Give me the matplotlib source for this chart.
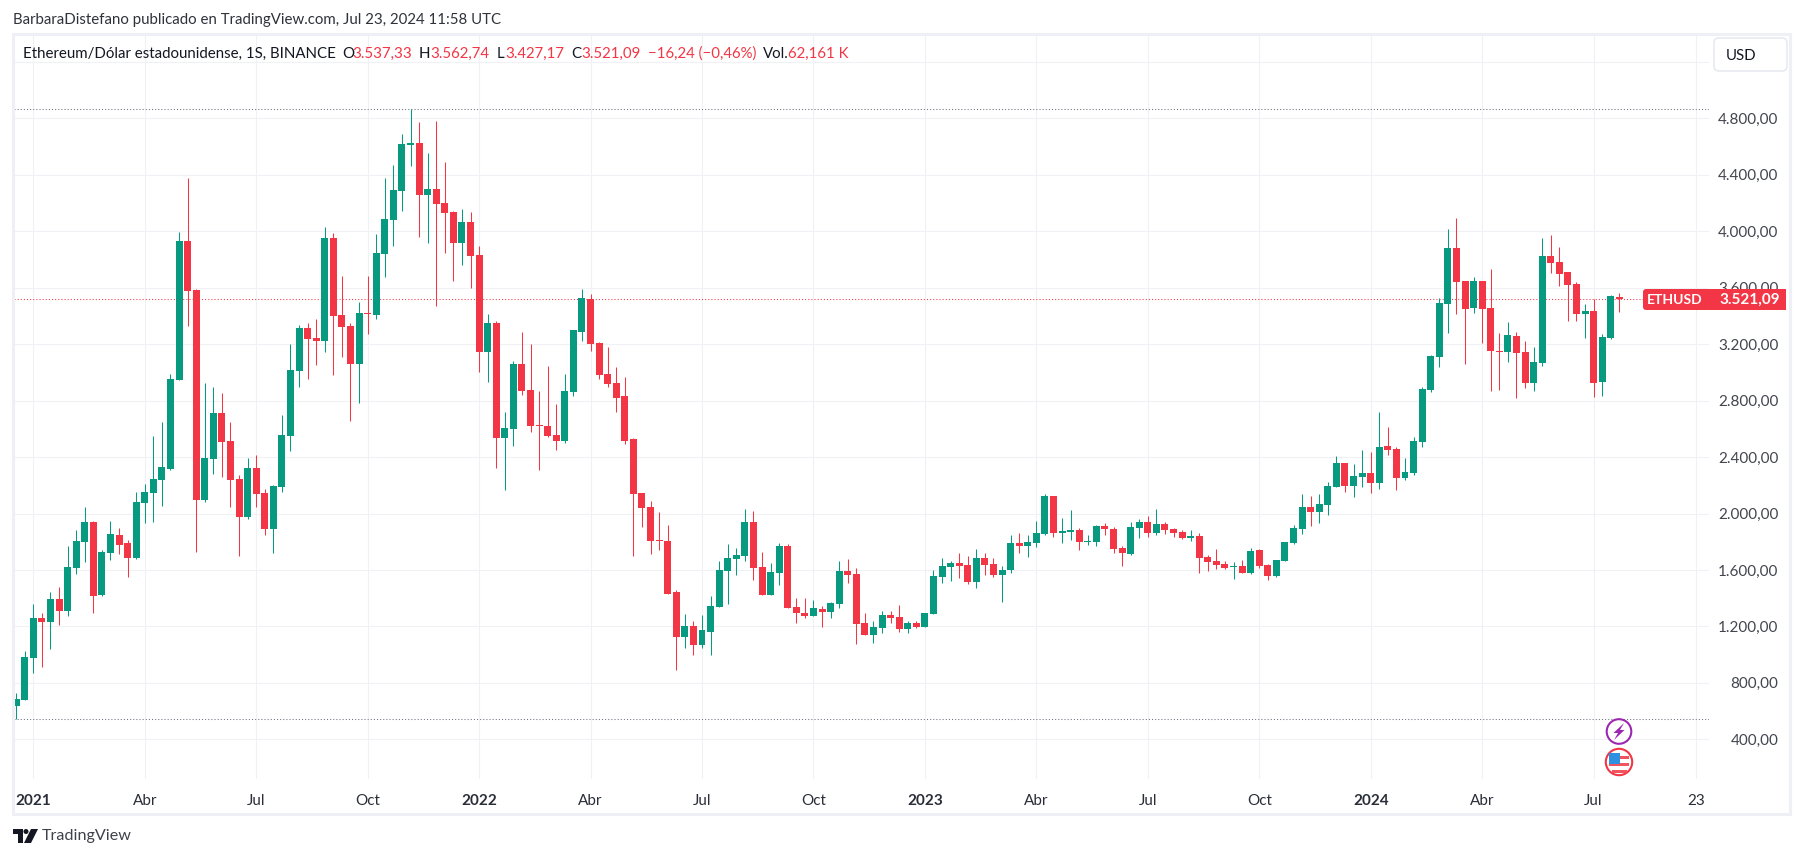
import numpy as np
import matplotlib
matplotlib.use("Agg")
import matplotlib.pyplot as plt
from matplotlib.patches import Circle, Polygon, Rectangle, FancyBboxPatch

# ---- data: weekly ETH/USD candles, week index 0 = 2020-12-21 ----
opens = [638,681,979,1260,1234,1394,1312,1616,1801,1940,
         1425,1723,1848,1791,1687,2077,2148,2240,2318,2949,
         3931,3584,2098,2389,2713,2514,2245,1978,2323,2145,
         1893,2188,2552,3012,3315,3244,3223,3953,3407,3329,
         3062,3421,3409,3839,4082,4288,4612,4626,4260,4300,
         4201,4137,3920,4066,3833,3148,3351,2538,2600,3060,
         2876,2628,2621,2557,2517,2864,3289,3521,3209,2990,
         2926,2834,2529,2146,2047,1813,1806,1444,1128,1204,
         1071,1163,1341,1596,1681,1702,1940,1622,1426,1581,
         1770,1338,1296,1277,1324,1305,1362,1593,1572,1225,
         1142,1189,1281,1267,1182,1224,1196,1288,1550,1621,
         1649,1635,1515,1685,1642,1564,1600,1791,1770,1791,
         1855,2124,1862,1869,1883,1798,1798,1912,1890,1756,
         1713,1897,1940,1862,1926,1890,1869,1827,1841,1692,
         1664,1642,1621,1628,1579,1741,1635,1557,1664,1791,
         1890,2046,2011,2063,2191,2358,2198,2261,2288,2219,
         2479,2458,2254,2290,2510,2876,3112,3487,3882,3648,
         3459,3648,3457,3152,3147,3258,3145,2928,3069,3825,
         3783,3712,3627,3417,3435,2935,3247,3537.33]
closes = [686,983,1260,1234,1394,1312,1621,1805,1940,1418,
          1727,1855,1779,1687,2082,2153,2245,2330,2953,3931,
          3579,2098,2393,2713,2509,2240,1978,2323,2141,1893,
          2195,2556,3017,3315,3239,3223,3953,3402,3324,3062,
          3421,3414,3846,4087,4293,4619,4626,4260,4300,4196,
          4133,3920,4066,3828,3148,3351,2538,2607,3060,2871,
          2621,2621,2552,2517,2869,3301,3528,3204,2985,2921,
          2822,2517,2141,2042,1808,1806,1433,1128,1204,1071,
          1175,1345,1600,1685,1707,1940,1617,1426,1586,1770,
          1333,1298,1277,1331,1303,1367,1593,1567,1220,1142,
          1196,1281,1260,1182,1224,1196,1295,1557,1628,1649,
          1628,1515,1685,1635,1564,1600,1791,1770,1798,1862,
          2124,1862,1876,1883,1798,1805,1912,1890,1749,1720,
          1905,1940,1862,1926,1883,1862,1827,1841,1685,1657,
          1635,1614,1628,1579,1734,1628,1557,1671,1798,1897,
          2046,2011,2068,2195,2358,2198,2266,2288,2219,2472,
          2453,2254,2295,2514,2883,3117,3492,3882,3643,3452,
          3648,3452,3154,3145,3265,3140,2928,3074,3825,3778,
          3700,3622,3417,3435,2928,3251,3542,3521.09]
highs = [728,1023,1359,1295,1444,1479,1770,1883,2046,1947,
         1741,1947,1897,1812,2153,2209,2549,2649,2989,3995,
         4378,3591,2925,2897,2854,2649,2273,2393,2415,2174,
         2202,2698,3201,3336,3350,3379,4030,3988,3683,3350,
         3499,3683,3981,4378,4470,4689,4867,4775,4555,4782,
         4491,4144,4159,4137,3896,3415,3365,2720,3082,3287,
         3202,2869,3046,2777,2989,3301,3592,3556,3216,3181,
         3039,2968,2536,2146,2089,2011,1919,1459,1289,1239,
         1282,1416,1664,1785,1756,2033,2018,1728,1650,1792,
         1785,1402,1402,1388,1345,1374,1664,1678,1615,1296,
         1239,1309,1309,1352,1238,1238,1295,1600,1685,1664,
         1720,1699,1749,1720,1685,1628,1848,1862,1848,1947,
         2138,2124,1968,2025,1897,1848,1919,1933,1905,1770,
         1940,1961,1982,2032,1940,1897,1883,1883,1862,1706,
         1749,1664,1657,1671,1756,1749,1642,1671,1798,1919,
         2138,2124,2138,2224,2408,2358,2351,2450,2436,2720,
         2613,2472,2394,2543,2897,3124,3528,4017,4094,3648,
         3676,3648,3733,3280,3357,3287,3223,3180,3953,3974,
         3889,3712,3641,3485,3520,3272,3549,3562.74]
lows = [546,681,872,915,1042,1212,1276,1574,1659,1297,
        1418,1673,1716,1553,1680,1935,1942,2056,2311,2949,
        3331,1730,2084,2282,2261,2049,1701,1964,2049,1850,
        1723,2153,2445,2899,2956,3055,3147,2984,3112,2658,
        2786,3275,3381,3678,3898,4146,4465,3962,3919,3473,
        3849,3651,3764,3601,3006,2935,2326,2170,2481,2843,
        2581,2311,2545,2453,2503,2836,3226,3155,2956,2893,
        2722,2496,1702,1907,1716,1744,1433,894,1050,1000,
        1050,995,1341,1362,1567,1667,1532,1426,1426,1496,
        1333,1227,1263,1277,1199,1263,1333,1511,1078,1142,
        1085,1153,1227,1160,1153,1189,1196,1288,1508,1522,
        1543,1501,1472,1564,1550,1373,1579,1720,1692,1763,
        1848,1834,1791,1812,1741,1777,1770,1848,1720,1628,
        1706,1827,1834,1848,1855,1834,1820,1805,1579,1593,
        1607,1607,1536,1579,1571,1614,1529,1550,1664,1784,
        1855,1912,1933,1992,2191,2155,2120,2191,2148,2177,
        2417,2169,2240,2276,2474,2864,3041,3282,3417,3062,
        3424,3211,2871,2878,3076,2821,2892,2871,3048,3707,
        3615,3367,3367,3247,2828,2835,3239,3427.17]

price_ticks = [400,800,1200,1600,2000,2400,2800,3200,3600,4000,4400,4800,5200]
price_labels = ["400,00","800,00","1.200,00","1.600,00","2.000,00","2.400,00","2.800,00",
                "3.200,00","3.600,00","4.000,00","4.400,00","4.800,00",""]
time_ticks = [2,15,28,41,54,67,80,93,106,119,132,145,158,171,184,196]
time_labels = ["2021","Abr","Jul","Oct","2022","Abr","Jul","Oct","2023","Abr","Jul","Oct","2024","Abr","Jul","23"]

GREEN, RED = "#089981", "#F23645"
GRID, FRAME, DARK = "#f0f1f5", "#eff0f6", "#131722"
FONT = "Lato"
W, H = 1804, 858

plt.rcParams["font.family"] = [FONT, "DejaVu Sans"]
fig = plt.figure(figsize=(W/100, H/100), dpi=100, facecolor="white")

# main pane, pixel box x 14-1709, y 35-779
ax = fig.add_axes([14/W, 1-779/H, (1709-14)/W, (779-35)/H])
ax.set_xlim(-0.25, 197.46)
ax.set_ylim(118.6, 5391)
for s in ax.spines.values():
    s.set_visible(False)
ax.set_axisbelow(True)
ax.grid(True, color=GRID, lw=0.8)

x = np.arange(len(opens))
o, c, hi, lo = map(np.array, (opens, closes, highs, lows))
col = np.where(c >= o, GREEN, RED)
ax.vlines(x, lo, hi, colors=col, lw=0.75, zorder=3)
ax.bar(x, np.abs(c-o), bottom=np.minimum(o, c), width=0.815, color=col, lw=0, zorder=3)

ax.axhline(hi.max(), color="#6f7380", lw=0.75, ls=(0, (1, 2)), zorder=2)
ax.axhline(lo.min(), color="#6f7380", lw=0.75, ls=(0, (1, 2)), zorder=2)
ax.axhline(c[-1], color=RED, lw=0.75, ls=(0, (1, 2)), zorder=2)

ax.yaxis.tick_right()
ax.set_yticks(price_ticks, price_labels)
ax.set_xticks(time_ticks, time_labels)
ax.tick_params(axis="both", length=0)
ax.tick_params(axis="y", pad=50, labelsize=11, labelcolor="#43454f")
ax.tick_params(axis="x", pad=10.5, labelsize=11, labelcolor="#2a2e39")
for t in ax.get_yticklabels():
    t.set_ha("right")
    t.set_va("center_baseline")
for t, s in zip(ax.get_xticklabels(), time_labels):
    if s.startswith("20"):
        t.set_fontweight("bold")

# overlay in pixel coordinates for the page furniture
ov = fig.add_axes([0, 0, 1, 1], facecolor="none", zorder=5)
ov.set_xlim(0, W); ov.set_ylim(H, 0); ov.axis("off")

ov.add_patch(Rectangle((13, 34), 1777, 780, fill=False, ec=FRAME, lw=2.2))
ov.text(13, 20, "BarbaraDistefano publicado en TradingView.com, Jul 23, 2024 11:58 UTC",
        fontsize=10.85, color="#2f323b", va="center")

hdr = [(23, "Ethereum/Dólar estadounidense, 1S, BINANCE", DARK), (342, "O", DARK), (352, "3.537,33", RED),
       (419, "H", DARK), (430, "3.562,74", RED), (497, "L", DARK), (505, "3.427,17", RED),
       (571, "C", DARK), (581, "3.521,09", RED), (648, "−16,24 (−0,46%)", RED),
       (763, "Vol.", DARK), (788, "62,161 K", RED)]
for px, s, colr in hdr:
    ov.text(px, 54, s, fontsize=10.8, color=colr, va="center")

ov.add_patch(FancyBboxPatch((1714+5, 38+5), 73-10, 33-10, boxstyle="round,pad=5,rounding_size=5",
                            fc="white", ec="#e6e8ef", lw=1.1))
ov.text(1726, 55.5, "USD", fontsize=10.8, color=DARK, va="center")

# last price tag
ov.add_patch(FancyBboxPatch((1646, 292), 62, 15, boxstyle="round,pad=3,rounding_size=3", fc=RED, ec="none"))
ov.add_patch(Rectangle((1650, 289), 58, 21, fc=RED, ec="none"))
ov.add_patch(Rectangle((1709, 289), 77, 21, fc=RED, ec="none"))
ov.text(1674.6, 300.5, "ETHUSD", fontsize=10, color="white", va="center", ha="center", fontweight="bold")
ov.text(1780, 300, "3.521,09", fontsize=11, color="white", va="center", ha="right", fontweight="bold")

# event icons
ov.add_patch(Circle((1619, 731.5), 12.3, fc="white", ec="#9C27B0", lw=1.5))
ov.add_patch(Polygon([(1624, 723), (1613.5, 733), (1618, 733), (1614, 740), (1624.5, 730), (1620, 730)],
                     fc="#9C27B0", ec="none"))
ov.add_patch(Circle((1619, 762), 13.2, fc="white", ec=RED, lw=1.5))
for yy, ww in [(756, 19), (763, 20), (769.5, 15)]:
    ov.add_patch(Rectangle((1619-ww/2, yy), ww, 3.4, fc="#F0555E", ec="none"))
ov.add_patch(Rectangle((1609, 753), 11, 11, fc="#2F8FE0", ec="none"))

# TradingView mark
ov.add_patch(Polygon([(13, 829), (22.5, 829), (22.5, 843), (17.5, 843), (17.5, 834), (13, 834)], fc="#131722", ec="none"))
ov.add_patch(Circle((26, 831.5), 2.5, fc="#131722", ec="none"))
ov.add_patch(Polygon([(31, 829), (38, 829), (31, 843), (24, 843)], fc="#131722", ec="none"))
ov.text(42, 836, "TradingView", fontsize=11.6, color="#3e414b", va="center")

fig.savefig("out.png", dpi=100)
